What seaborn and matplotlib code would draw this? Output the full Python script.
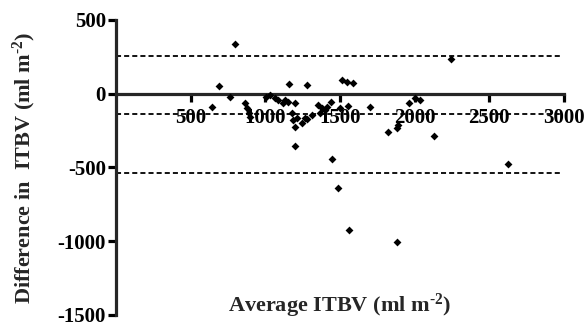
import matplotlib
matplotlib.use("Agg")
import pandas as pd
import seaborn as sns
from matplotlib import pyplot as plt

# Bland-Altman data
average_itbv = [643, 690, 764, 797, 864, 876, 890, 900, 1005, 1031, 1065, 1085,
                1119, 1132, 1152, 1159, 1179, 1186, 1199, 1199, 1199, 1213, 1246,
                1266, 1279, 1279, 1313, 1353, 1366, 1380, 1400, 1413, 1440, 1447,
                1487, 1500, 1514, 1547, 1554, 1561, 1587, 1701, 1822, 1882, 1889,
                1882, 1962, 2003, 2036, 2130, 2244, 2626]
diff_itbv = [-88, 54, -20, 339, -61, -95, -129, -156, -20, -7, -27, -41,
             -61, -41, -54, 68, -129, -176, -61, -224, -352, -163, -197,
             -163, 61, -169, -142, -75, -129, -95, -108, -88, -54, -441,
             -637, -95, 95, 81, -81, -922, 75, -88, -258, -231, -210,
             -1003, -61, -27, -41, -285, 237, -475]

bias = -140
limits = [258, -538]
x_ticks = [500, 1000, 1500, 2000, 2500, 3000]
y_ticks = [-1500, -1000, -500, 0, 500]

sns.set_style("ticks")
plt.rcParams["font.family"] = ["Liberation Serif", "DejaVu Serif"]
plt.rcParams["font.weight"] = "bold"
plt.rcParams["axes.unicode_minus"] = False
plt.rcParams["mathtext.fontset"] = "custom"
plt.rcParams["mathtext.rm"] = "Liberation Serif:bold"
plt.rcParams["mathtext.bf"] = "Liberation Serif:bold"
plt.rcParams["mathtext.default"] = "bf"

df = pd.DataFrame({"average": average_itbv, "difference": diff_itbv})

fig = plt.figure(figsize=(5.88, 3.26), dpi=100)
ax = fig.add_axes([0.197, 0.034, 0.762, 0.905])

# bias and limits of agreement
dash = (0, (2.8, 1.7))
for y in [limits[0], bias, limits[1]]:
    ax.hlines(y, 0, 2980, colors="black", linestyles=dash, linewidth=1.3, zorder=1)

sns.scatterplot(data=df, x="average", y="difference", marker="D", color="black",
                s=16, linewidth=0, ax=ax, zorder=3)

ax.set_xlim(0, 3000)
ax.set_ylim(-1500, 500)
ax.set_xticks(x_ticks)
ax.set_yticks(y_ticks)
ax.set_xticklabels([str(v) for v in x_ticks])
ax.set_yticklabels([str(v) for v in y_ticks])

ax.spines["top"].set_visible(False)
ax.spines["right"].set_visible(False)
ax.spines["bottom"].set_position(("data", 0))
ax.spines["left"].set_linewidth(2.3)
ax.spines["bottom"].set_linewidth(2.3)
ax.tick_params(axis="both", width=2.3, length=6, colors="black", labelsize=15)
ax.tick_params(axis="x", pad=4)
ax.tick_params(axis="y", pad=1)
for lbl in ax.get_xticklabels() + ax.get_yticklabels():
    lbl.set_fontweight("bold")

ax.set_xlabel(r"Average ITBV (ml m$^{\text{-}2}$)", fontsize=16, fontweight="bold")
ax.set_ylabel(r"Difference in  ITBV (ml m$^{\text{-}2}$)", fontsize=16, fontweight="bold")
ax.xaxis.set_label_coords(0.5, 0.08)
ax.yaxis.set_label_coords(-0.173, 0.5)

fig.savefig("out.png", dpi=100)
